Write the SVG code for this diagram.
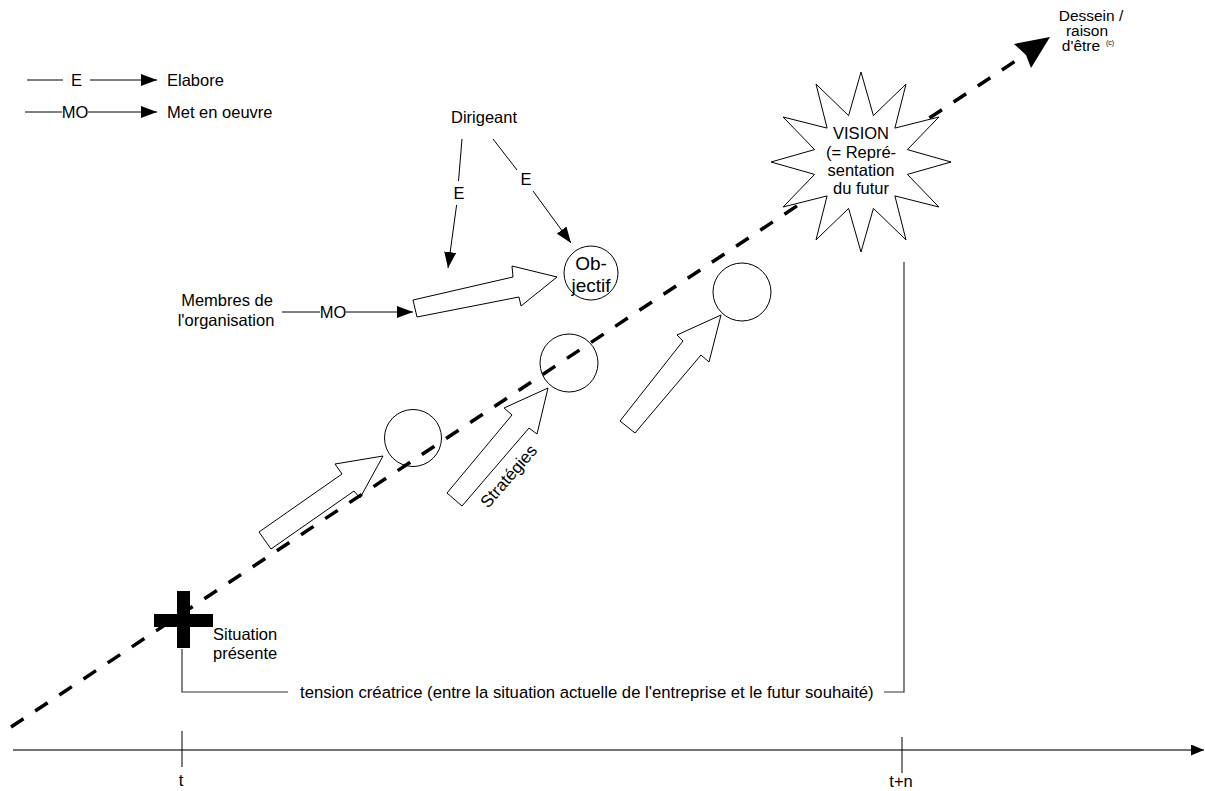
<svg xmlns="http://www.w3.org/2000/svg" width="1205" height="791" viewBox="0 0 1205 791">
<style>
text{font-family:"Liberation Sans",Arial,sans-serif;font-size:16.5px;fill:#000}
.m{text-anchor:middle}
.ln{stroke:#000;stroke-width:1;fill:none}
.gl{stroke:#333;stroke-width:1.2;fill:none}
.blk{fill:#fff;stroke:#000;stroke-width:1}
.circ{fill:none;stroke:#000;stroke-width:1}
</style>
<defs>
<marker id="ah" markerUnits="userSpaceOnUse" markerWidth="16" markerHeight="12" viewBox="0 0 16 12" refX="16" refY="6" orient="auto">
<path d="M0,0 L16,6 L0,12 z" fill="#000"/>
</marker>
<marker id="ahs" markerUnits="userSpaceOnUse" markerWidth="13" markerHeight="11" viewBox="0 0 13 11" refX="13" refY="5.5" orient="auto">
<path d="M0,0 L13,5.5 L0,11 z" fill="#000"/>
</marker>
</defs>
<rect width="1205" height="791" fill="#fff"/>

<g id="legend">
<line class="ln" x1="27" y1="80" x2="63" y2="80"/>
<text x="76.5" y="86" class="m">E</text>
<line class="ln" x1="90" y1="80" x2="157" y2="80" marker-end="url(#ah)"/>
<text x="167" y="86">Elabore</text>
<line class="ln" x1="25" y1="112" x2="62" y2="112"/>
<text x="75" y="118" class="m">MO</text>
<line class="ln" x1="88" y1="112" x2="157" y2="112" marker-end="url(#ah)"/>
<text x="167" y="118">Met en oeuvre</text>
</g>

<g id="block-arrows">
<polygon id="arrow1" class="blk" points="259,532 342,474 335,464 383,456 360,498 354,491 271,549"/>
<polygon id="arrow2" class="blk" points="447,493 512,415 504,408 548,388 537,434 529,428 462,506"/>
<polygon id="arrow3" class="blk" points="620,421 683,341 677,335 721,315 709,362 701,355 635,433"/>
<polygon id="arrow4" class="blk" points="413,300 513,277 512,266 557,277 521,306 519,297 417,317"/>
</g>

<g id="circles">
<circle id="step1" class="circ" cx="413" cy="438" r="28.5"/>
<circle id="step2" class="circ" cx="569" cy="363" r="29"/>
<circle id="step3" class="circ" cx="742" cy="292" r="29"/>
</g>

<g id="objectif">
<circle class="circ" cx="591" cy="273" r="27"/>
<text x="591" y="270" class="m" style="font-size:19px">Ob-</text>
<text x="591" y="292" class="m" style="font-size:19px">jectif</text>
</g>

<g id="trajectory">
<line x1="11" y1="727" x2="1026" y2="54" stroke="#000" stroke-width="3.5" stroke-dasharray="15,14"/>
<polygon points="1050,37 1014,44 1026,55 1031,68" fill="#000"/>
</g>

<g id="vision">
<polygon fill="#fff" stroke="#000" stroke-width="1" points="861,72 873.4,115.6 906,84.1 894.9,128.1 938.9,117 907.4,149.6 951,162 907.4,174.4 938.9,207 894.9,195.9 906,239.9 873.4,208.4 861,252 848.6,208.4 816,239.9 827.1,195.9 783.1,207 814.6,174.4 771,162 814.6,149.6 783.1,117 827.1,128.1 816,84.1 848.6,115.6"/>
<text x="861" y="139" class="m">VISION</text>
<text x="861" y="158" class="m">(= Repré-</text>
<text x="861" y="176" class="m">sentation</text>
<text x="861" y="194" class="m">du futur</text>
</g>

<g id="dessein">
<text x="1091" y="21" class="m" style="font-size:15.5px">Dessein /</text>
<text x="1087" y="36" class="m" style="font-size:15.5px">raison</text>
<text x="1081" y="51" class="m" style="font-size:15.5px">d'être</text>
<text x="1106" y="45" style="font-size:7px">(c)</text>
</g>

<g id="dirigeant">
<text x="484" y="123" class="m">Dirigeant</text>
</g>

<g id="membres">
<text x="227" y="306" class="m">Membres de</text>
<text x="226" y="326" class="m">l'organisation</text>
</g>

<g id="situation">
<rect x="177" y="591" width="13" height="57" fill="#000"/>
<rect x="154" y="614" width="59" height="13" fill="#000"/>
<text x="213" y="640">Situation</text>
<text x="213" y="659">présente</text>
</g>

<g id="strategies-label">
<text x="0" y="0" class="m" style="font-size:17px" transform="translate(513,480) rotate(-49)">Stratégies</text>
</g>

<g id="connectors">
<line class="ln" x1="462" y1="139" x2="458.5" y2="181"/>
<line class="ln" x1="456.6" y1="205" x2="448" y2="268" marker-end="url(#ah)"/>
<text x="459" y="199" class="m">E</text>
<line class="ln" x1="493" y1="139" x2="517" y2="170"/>
<line class="ln" x1="533" y1="191" x2="571" y2="243" marker-end="url(#ah)"/>
<text x="526" y="185" class="m">E</text>
<line class="ln" x1="282" y1="312" x2="320" y2="312"/>
<text x="333" y="318" class="m">MO</text>
<line class="ln" x1="346" y1="312" x2="413" y2="312" marker-end="url(#ah)"/>
</g>

<g id="tension">
<polyline class="gl" points="182,649 182,692 288,692"/>
<text x="300" y="698" style="font-size:16.7px">tension créatrice (entre la situation actuelle de l'entreprise et le futur souhaité)</text>
<polyline class="gl" points="884,692 904,692 904,262"/>
</g>

<g id="time-axis">
<line x1="13" y1="750" x2="1204" y2="750" stroke="#444" stroke-width="1.3" marker-end="url(#ahs)"/>
<line x1="182" y1="731" x2="182" y2="767" stroke="#000" stroke-width="1"/>
<line x1="902" y1="737" x2="902" y2="773" stroke="#000" stroke-width="1"/>
<text x="181" y="786" class="m">t</text>
<text x="901" y="787" class="m">t+n</text>
</g>
</svg>
